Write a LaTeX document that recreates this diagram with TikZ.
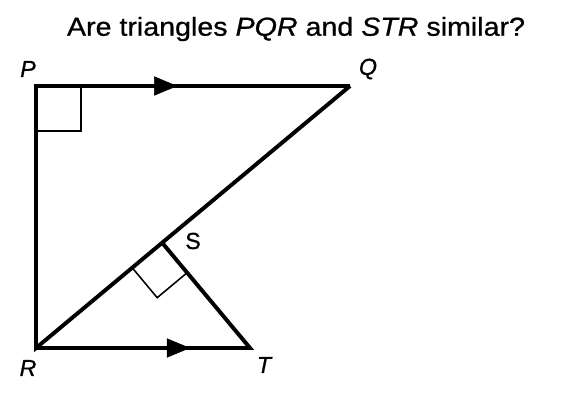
\documentclass[tikz,border=0pt]{standalone}
\usepackage{fontspec}
\setmainfont{Liberation Sans}[FakeBold=0.8]
\newfontfamily\titlefont{Liberation Sans}[FakeStretch=1.1, FakeBold=0.8]
\usetikzlibrary{arrows.meta,calc,decorations.markings}
\tikzset{
  side/.style={line width=2.8pt},
  rtmark/.style={line width=1.1pt},
  vlabel/.style={font=\fontsize{16.5}{19}\selectfont\itshape, inner sep=0pt},
  midarrow/.style={postaction={decorate}, decoration={markings,
    mark=at position #1 with {\arrow{Triangle[length=0.58cm,width=0.48cm]}}}},
}

\begin{document}
\begin{tikzpicture}[x=0.025cm, y=-0.025cm]
  \useasboundingbox (0,0) rectangle (574,396);
  \node[font=\titlefont\fontsize{18.5}{22}\selectfont] (title) at (296,29)
    {Are triangles \textit{PQR} and \textit{STR} similar?};
  \coordinate (P) at (36,86);
  \coordinate (Q) at (350,86);
  \coordinate (R) at (36,348);
  \coordinate (T) at (250,348);
  \coordinate (S) at ($(R)!(T)!(Q)$);
  \coordinate (SR) at ($(S)!0.975cm!(R)$);
  \coordinate (ST) at ($(S)!0.975cm!(T)$);
  % right angle marks
  \draw[rtmark] ($(P)+(45,0)$) -- ++(0,45) -- ++(-45,0);
  \draw[rtmark] (SR) -- ($(SR)+(ST)-(S)$) -- (ST);
  % sides
  \draw[side] (Q) -- (R) -- (P) -- (Q);
  \draw[side] (R) -- (T) -- (S);
  \path[midarrow=0.45] (P) -- (Q);
  \path[midarrow=0.72] (R) -- (T);
  % vertex labels
  \node[vlabel] (lP) at (28,69) {P};
  \node[vlabel] (lQ) at (368,69) {Q};
  \node[vlabel] (lR) at (28,368) {R};
  \node[vlabel, font=\fontsize{16.5}{19}\selectfont] (lS) at (193,241) {S};
  \node[vlabel] (lT) at (264,365) {T};
\end{tikzpicture}
\end{document}
